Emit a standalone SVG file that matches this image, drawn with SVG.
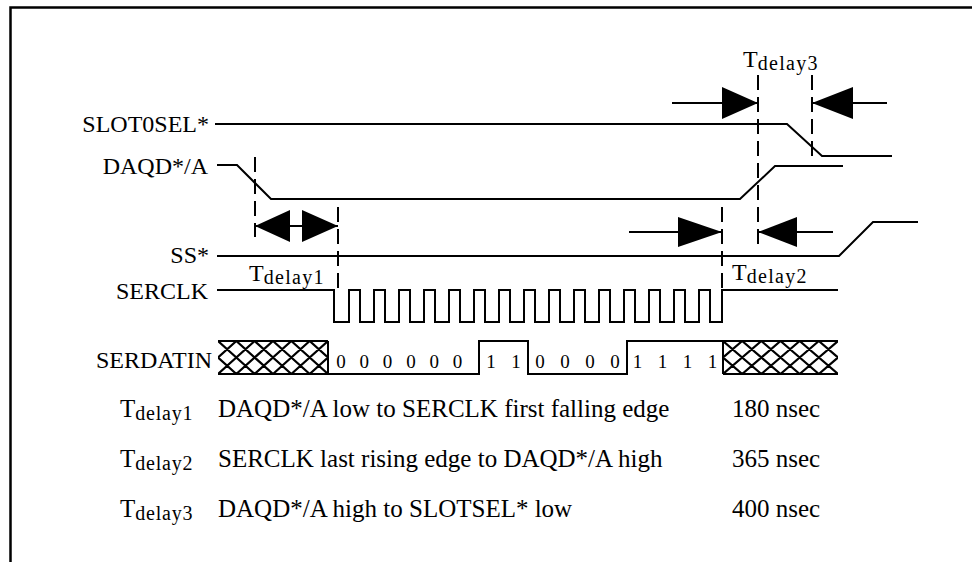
<svg xmlns="http://www.w3.org/2000/svg" width="972" height="562" viewBox="0 0 972 562">
<style>
.t{font-family:"Liberation Serif","Times New Roman",serif;font-size:24px;fill:#000}
.tb{font-family:"Liberation Serif","Times New Roman",serif;font-size:25px;fill:#000}
.sub{font-size:20px;letter-spacing:1.3px}
.d{font-family:"Liberation Serif","Times New Roman",serif;font-size:19px;fill:#000;text-anchor:middle}
.w{fill:none;stroke:#000;stroke-width:2}
.h{fill:none;stroke:#000;stroke-width:2.3}
.dash{fill:none;stroke:#000;stroke-width:2;stroke-dasharray:15 7}
.ah{fill:#000;stroke:none}
.r{text-anchor:end}
</style>
<defs>
<clipPath id="cL"><rect x="218" y="340" width="110" height="35"/></clipPath>
<clipPath id="cR"><rect x="723" y="340" width="115" height="35"/></clipPath>
</defs>
<rect width="972" height="562" fill="#fff"/>
<path d="M10.5,562 V7.5 H972" fill="none" stroke="#000" stroke-width="2.5"/>

<g id="slot0sel">
<text class="t r" x="209" y="132">SLOT0SEL*</text>
<path class="w" d="M215,124 H787 L822,156 H892"/>
</g>
<g id="daqd">
<text class="t r" x="208" y="174">DAQD*/A</text>
<path class="w" d="M217,165 H237 L271,199 H740 L775,166 H843"/>
</g>
<g id="ss">
<text class="t r" x="209" y="263">SS*</text>
<path class="w" d="M217,256 H839 L873,222 H918"/>
</g>
<g id="serclk">
<text class="t r" x="208" y="299">SERCLK</text>
<path class="w" d="M217,290 H334 V322 H349 V290 H360 V322 H374 V290 H385 V322 H399 V290 H410 V322 H424 V290 H435 V322 H449 V290 H460 V322 H474 V290 H485 V322 H499 V290 H510 V322 H524 V290 H535 V322 H549 V290 H560 V322 H574 V290 H585 V322 H599 V290 H610 V322 H624 V290 H635 V322 H649 V290 H660 V322 H674 V290 H685 V322 H699 V290 H710 V322 H722 V290 H838"/>
</g>
<g id="serdatin">
<text class="t r" x="212" y="368">SERDATIN</text>
<path class="w" d="M218,341 H328 M218,374 H328 M328,341 V374 H479 V341 H528 V374 H627 V341 H723 V374 M723,341 H838 M723,374 H838"/>
<path class="h" clip-path="url(#cL)" d="M181.33,341 L218,374 M199.67,341 L236.33,374 M218,341 L254.67,374 M236.33,341 L273,374 M254.67,341 L291.33,374 M273,341 L309.67,374 M291.33,341 L328,374 M309.67,341 L346.33,374 M218,341 L181.33,374 M236.33,341 L199.67,374 M254.67,341 L218,374 M273,341 L236.33,374 M291.33,341 L254.67,374 M309.67,341 L273,374 M328,341 L291.33,374 M346.33,341 L309.67,374 M364.67,341 L328,374"/>
<path class="h" clip-path="url(#cR)" d="M684.67,341 L723,374 M703.83,341 L742.17,374 M723,341 L761.33,374 M742.17,341 L780.5,374 M761.33,341 L799.67,374 M780.5,341 L818.83,374 M799.67,341 L838,374 M818.83,341 L857.17,374 M723,341 L684.67,374 M742.17,341 L703.83,374 M761.33,341 L723,374 M780.5,341 L742.17,374 M799.67,341 L761.33,374 M818.83,341 L780.5,374 M838,341 L799.67,374 M857.17,341 L818.83,374 M876.33,341 L838,374"/>
<text class="d" y="368"><tspan x="341">0</tspan><tspan x="364.3">0</tspan><tspan x="387.6">0</tspan><tspan x="411">0</tspan><tspan x="434.3">0</tspan><tspan x="457.6">0</tspan><tspan x="491">1</tspan><tspan x="516">1</tspan><tspan x="540">0</tspan><tspan x="565">0</tspan><tspan x="590">0</tspan><tspan x="615">0</tspan><tspan x="637.5">1</tspan><tspan x="662.5">1</tspan><tspan x="687.5">1</tspan><tspan x="712.5">1</tspan></text>
</g>

<g id="connectors">
<path class="dash" d="M255,157 V237"/>
<path class="dash" d="M338,207 V290"/>
<path class="dash" d="M722,207 V290"/>
<path class="dash" d="M758,75 V247"/>
<path class="dash" d="M812,75 V157"/>
<path class="w" d="M255,226 H338"/>
<polygon class="ah" points="255,226 290,210 290,242"/>
<polygon class="ah" points="338,226 302,210 302,242"/>
<path class="w" d="M629,232 H722 M758,232 H833"/>
<polygon class="ah" points="722,232 678,217 678,247"/>
<polygon class="ah" points="758,232 797,217 797,247"/>
<path class="w" d="M672,103 H758 M812,103 H887"/>
<polygon class="ah" points="758,103 722,87 722,119"/>
<polygon class="ah" points="812,103 853,87 853,119"/>
</g>

<g id="labels">
<text class="t" x="743" y="67">T<tspan class="sub" dy="3">delay3</tspan></text>
<text class="t" x="249" y="281">T<tspan class="sub" dy="3">delay1</tspan></text>
<text class="t" x="732" y="280">T<tspan class="sub" dy="3">delay2</tspan></text>
</g>

<g id="table">
<text class="tb" x="120" y="417">T<tspan class="sub" dy="3" style="letter-spacing:0.8px">delay1</tspan></text>
<text class="tb" x="218" y="417">DAQD*/A low to SERCLK first falling edge</text>
<text class="tb" x="732" y="417">180 nsec</text>
<text class="tb" x="120" y="467">T<tspan class="sub" dy="3" style="letter-spacing:0.8px">delay2</tspan></text>
<text class="tb" x="218" y="467">SERCLK last rising edge to DAQD*/A high</text>
<text class="tb" x="732" y="467">365 nsec</text>
<text class="tb" x="120" y="517">T<tspan class="sub" dy="3" style="letter-spacing:0.8px">delay3</tspan></text>
<text class="tb" x="218" y="517">DAQD*/A high to SLOTSEL* low</text>
<text class="tb" x="732" y="517">400 nsec</text>
</g>
</svg>
